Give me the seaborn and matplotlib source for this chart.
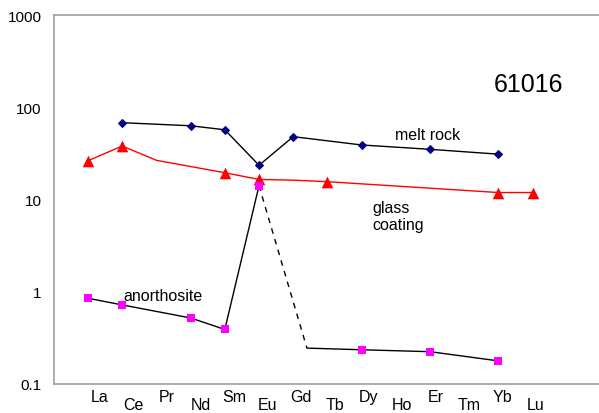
import numpy as np
import pandas as pd
import matplotlib
matplotlib.use("Agg")
import matplotlib.pyplot as plt
import seaborn as sns

# Rare earth elements along the category axis
elements = ["La", "Ce", "Pr", "Nd", "Sm", "Eu", "Gd", "Tb", "Dy", "Ho", "Er", "Tm", "Yb", "Lu"]

# Chondrite-normalised abundances (NaN = not analysed)
melt_rock = [np.nan, 68, np.nan, 63, 57, 23.5, 48, np.nan, 39, np.nan, 35, np.nan, 31, np.nan]

glass_coating = [26.3, 38, 26.6, np.nan, 19.5, 16.5, 16.2, 15.6, np.nan, np.nan, np.nan, np.nan, 11.9, 11.9]
glass_measured = ["La", "Ce", "Sm", "Eu", "Tb", "Yb", "Lu"]

anorthosite_pos = [0, 1, 3, 4, 5, 6.4, 8, 10, 12]
anorthosite = [0.85, 0.72, 0.52, 0.39, 14.1, 0.245, 0.235, 0.224, 0.178]
anorthosite_measured = [True, True, True, True, True, False, True, True, True]

sns.set_theme(style="white")
plt.rcParams["font.family"] = ["Liberation Sans", "DejaVu Sans"]
plt.rcParams["text.color"] = "black"

fig = plt.figure(figsize=(5.99, 4.14), dpi=100)
ax = fig.add_axes([54 / 599, 29 / 414, 545 / 599, 369 / 414])

pos = np.arange(len(elements))

# melt rock
df_melt = pd.DataFrame({"x": pos, "y": melt_rock}).dropna()
sns.lineplot(data=df_melt, x="x", y="y", ax=ax, color="black", lw=1.0,
             marker="D", markersize=4.5, markerfacecolor="#000080",
             markeredgecolor="#000080", estimator=None, sort=False)

# glass coating
df_glass = pd.DataFrame({"x": pos, "y": glass_coating, "el": elements}).dropna()
sns.lineplot(data=df_glass, x="x", y="y", ax=ax, color="#FF0000", lw=1.0,
             estimator=None, sort=False)
df_glass_pts = df_glass[df_glass["el"].isin(glass_measured)]
sns.scatterplot(data=df_glass_pts, x="x", y="y", ax=ax, marker="^", s=70,
                color="#FF0000", edgecolor="#FF0000", linewidth=0, zorder=4)

# anorthosite: solid through La-Eu, dashed Eu-Gd, solid Gd-Yb
df_an = pd.DataFrame({"x": anorthosite_pos, "y": anorthosite, "m": anorthosite_measured})
sns.lineplot(data=df_an.iloc[:5], x="x", y="y", ax=ax, color="black", lw=1.0,
             estimator=None, sort=False)
sns.lineplot(data=df_an.iloc[4:6], x="x", y="y", ax=ax, color="black", lw=1.0,
             linestyle=(0, (4, 4)), estimator=None, sort=False)
sns.lineplot(data=df_an.iloc[5:], x="x", y="y", ax=ax, color="black", lw=1.0,
             estimator=None, sort=False)
sns.scatterplot(data=df_an[df_an["m"]], x="x", y="y", ax=ax, marker="s", s=28,
                color="#FF00FF", edgecolor="#FF00FF", linewidth=0, zorder=4)

ax.set_yscale("log")
ax.set_ylim(0.1, 1000)
ax.set_xlim(-0.994, 14.94)
ax.set_yticks([0.1, 1, 10, 100, 1000])
ax.set_yticklabels(["0.1", "1", "10", "100", "1000"])
ax.yaxis.set_minor_locator(matplotlib.ticker.NullLocator())
ax.tick_params(axis="y", length=0, pad=9, labelsize=11, labelcolor="black")

# staggered category labels: even ones on the upper row, odd ones below
tick_pos = 0.351 + 0.9807 * pos
ax.set_xticks(tick_pos[0::2])
ax.set_xticklabels(elements[0::2])
ax.set_xticks(tick_pos[1::2], minor=True)
ax.set_xticklabels(elements[1::2], minor=True)
ax.tick_params(axis="x", which="both", direction="in", length=6, width=1,
               color="#8c8c8c", labelsize=11.5, labelcolor="black")
ax.tick_params(axis="x", which="major", pad=3.5)
ax.tick_params(axis="x", which="minor", pad=9.5)
ax.set_xlabel("")
ax.set_ylabel("")

for side in ["left", "top", "bottom"]:
    ax.spines[side].set_color("#a0a0a0")
    ax.spines[side].set_linewidth(1.2)
ax.spines["right"].set_visible(False)
ax.grid(False)

ax.text(12.87, 178, "61016", fontsize=18, ha="center", va="center")
ax.text(9.94, 51, "melt rock", fontsize=11.5, ha="center", va="center")
ax.text(8.30, 6.6, "glass\ncoating", fontsize=11.5, ha="left", va="center", linespacing=1.2)
ax.text(1.02, 0.90, "anorthosite", fontsize=11.5, ha="left", va="center")

fig.savefig("out.png", dpi=100)
